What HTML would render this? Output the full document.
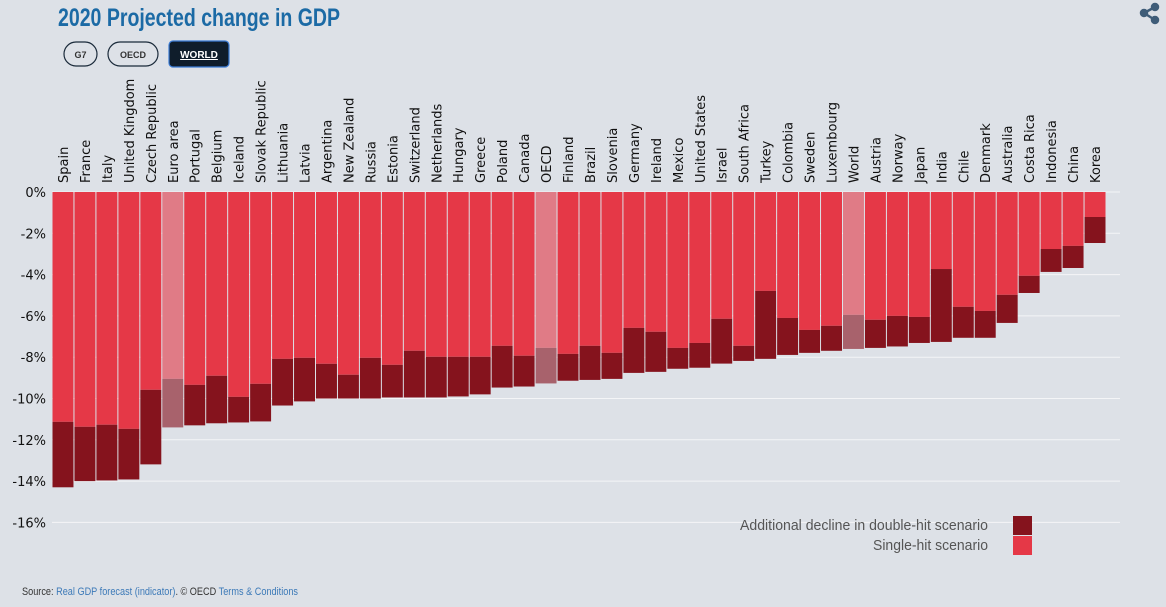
<!DOCTYPE html>
<html><head><meta charset="utf-8"><style>
html,body{margin:0;padding:0;background:#dde1e7;width:1166px;height:607px;overflow:hidden}
svg{display:block}
</style></head><body>
<svg id="c" width="1166" height="607" xmlns="http://www.w3.org/2000/svg">
<text x="58" y="26" font-family="Liberation Sans, sans-serif" font-weight="bold" font-size="25" fill="#1b6aa5" textLength="282" lengthAdjust="spacingAndGlyphs">2020 Projected change in GDP</text>
<g><rect x="64" y="42" width="33" height="24" rx="12" fill="none" stroke="#1a2a3a" stroke-width="1.2"/><text x="80.5" y="58" text-anchor="middle" font-family="Liberation Sans, sans-serif" font-weight="bold" font-size="9" fill="#333">G7</text></g>
<g><rect x="108" y="42" width="50" height="24" rx="12" fill="none" stroke="#1a2a3a" stroke-width="1.2"/><text x="133" y="58" text-anchor="middle" font-family="Liberation Sans, sans-serif" font-weight="bold" font-size="9" fill="#333">OECD</text></g>
<g><rect x="169" y="41" width="60" height="26" rx="4" fill="#0f1d2b" stroke="#3a7bd5" stroke-width="1.2"/><text x="199" y="58" text-anchor="middle" font-family="Liberation Sans, sans-serif" font-weight="bold" font-size="10" fill="#fff" text-decoration="underline">WORLD</text></g>
<g fill="#3e5c78" stroke="#3e5c78" stroke-width="2.5"><line x1="1144" y1="13" x2="1155" y2="7"/><line x1="1144" y1="13" x2="1155" y2="20"/><circle cx="1144" cy="13" r="3"/><circle cx="1155" cy="7" r="3"/><circle cx="1155" cy="20" r="3"/></g>
<g id="grid"></g><g id="bars"></g><g id="labels"></g><g id="yaxis"></g>
<g font-family="Liberation Sans, sans-serif" font-size="15" fill="#555">
<text x="988" y="530" text-anchor="end" textLength="248" lengthAdjust="spacingAndGlyphs">Additional decline in double-hit scenario</text>
<rect x="1013" y="516" width="19" height="19" fill="#85131d"/>
<text x="988" y="550" text-anchor="end" textLength="115" lengthAdjust="spacingAndGlyphs">Single-hit scenario</text>
<rect x="1013" y="536" width="19" height="19" fill="#e53847"/>
</g>
<text x="22" y="595" font-family="Liberation Sans, sans-serif" font-size="11" fill="#333" textLength="276" lengthAdjust="spacingAndGlyphs">Source: <tspan fill="#3d7ab8">Real GDP forecast (indicator)</tspan>. © OECD <tspan fill="#3d7ab8">Terms &amp; Conditions</tspan></text>
</svg>
<script>
const categories=["Spain","France","Italy","United Kingdom","Czech Republic","Euro area","Portugal","Belgium","Iceland","Slovak Republic","Lithuania","Latvia","Argentina","New Zealand","Russia","Estonia","Switzerland","Netherlands","Hungary","Greece","Poland","Canada","OECD","Finland","Brazil","Slovenia","Germany","Ireland","Mexico","United States","Israel","South Africa","Turkey","Colombia","Sweden","Luxembourg","World","Austria","Norway","Japan","India","Chile","Denmark","Australia","Costa Rica","Indonesia","China","Korea"];
const singleHit=[-11.13,-11.37,-11.27,-11.47,-9.58,-9.05,-9.34,-8.9,-9.92,-9.29,-8.08,-8.03,-8.32,-8.85,-8.03,-8.37,-7.69,-7.98,-7.98,-7.98,-7.45,-7.93,-7.55,-7.84,-7.45,-7.79,-6.58,-6.77,-7.55,-7.31,-6.14,-7.45,-4.79,-6.1,-6.68,-6.48,-5.95,-6.19,-6.0,-6.05,-3.73,-5.56,-5.76,-4.98,-4.06,-2.76,-2.61,-1.21];
const doubleHit=[-14.3,-14.0,-13.97,-13.92,-13.19,-11.4,-11.3,-11.2,-11.16,-11.11,-10.34,-10.14,-10.0,-10.0,-10.0,-9.95,-9.95,-9.95,-9.9,-9.8,-9.47,-9.42,-9.27,-9.14,-9.1,-9.05,-8.76,-8.71,-8.56,-8.51,-8.31,-8.18,-8.08,-7.89,-7.79,-7.69,-7.6,-7.55,-7.48,-7.31,-7.26,-7.06,-7.06,-6.34,-4.89,-3.87,-3.68,-2.47];
const highlighted=["Euro area","OECD","World"];
const yTicks=[0,-2,-4,-6,-8,-10,-12,-14,-16];
const NS="http://www.w3.org/2000/svg";
const x0=52,x1=1106,y0=192,pxPer=20.65;
const bw=(x1-x0)/categories.length;
const y=v=>y0-v*pxPer;
const x=i=>x0+i*bw;
function mk(t,a,p){const e=document.createElementNS(NS,t);for(const k in a)e.setAttribute(k,a[k]);p.appendChild(e);return e;}
const grid=document.getElementById('grid'),yax=document.getElementById('yaxis'),bars=document.getElementById('bars'),labs=document.getElementById('labels');
yTicks.forEach(t=>{
 const l=mk('line',{x1:x0,x2:1120,y1:y(t),y2:y(t),stroke:'#f4f5f7','stroke-width':1},grid);
 
 
 const tx=mk('text',{x:46,y:y(t)+5,'text-anchor':'end','font-family':'DejaVu Sans, sans-serif','font-size':13,fill:'#111'},yax);
 tx.textContent=t+'%';
 
 
});
categories.forEach((c,i)=>{
 const hl=highlighted.includes(c);
 const r1=mk('rect',{x:x(i)+0.5,y:y(0),width:bw-1,height:y(singleHit[i])-y(0),fill:hl?'#e07b86':'#e53847'},bars);
 
 
 const r2=mk('rect',{x:x(i)+0.5,y:y(singleHit[i]),width:bw-1,height:y(doubleHit[i])-y(singleHit[i]),fill:hl?'#a8626c':'#85131d'},bars);
 
 
 const cx=x(i)+bw/2+5;
 const t=mk('text',{x:cx,y:183,transform:`rotate(-90 ${cx} 183)`,'font-family':'DejaVu Sans, sans-serif','font-size':13,fill:'#111'},labs);
 t.textContent=c;
 
 
});
</script>
</body></html>
